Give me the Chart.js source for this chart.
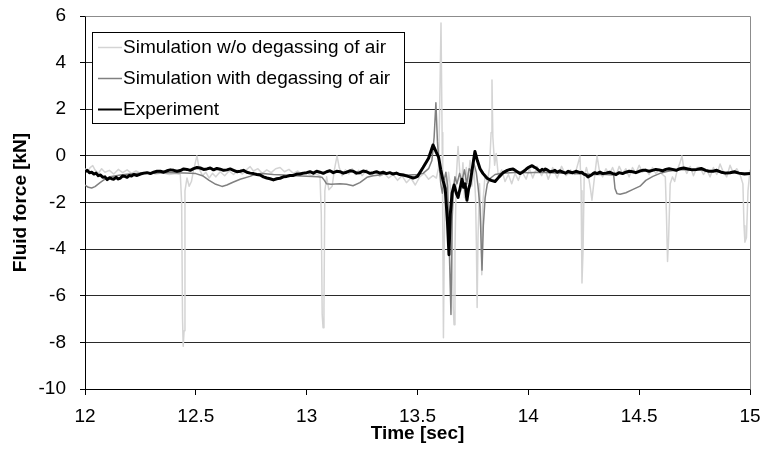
<!DOCTYPE html>
<html>
<head>
<meta charset="utf-8">
<script src="https://cdn.jsdelivr.net/npm/chart.js@4.4.1/dist/chart.umd.min.js"></script>
<style>
  body { margin: 0; background: #fff; }
  #wrap { width: 764px; height: 454px; }
</style>
</head>
<body>
<div id="wrap"><canvas id="forceChart" width="764" height="454"></canvas></div>
<script>
// Axis setup
const xMin = 12, xMax = 15, xStep = 0.5;
const yMin = -10, yMax = 6, yStep = 2;

// Simulation w/o degassing of air (light gray)
const noDegasTime = [12.000, 12.012, 12.023, 12.035, 12.045, 12.06, 12.075, 12.09, 12.11, 12.13, 12.15, 12.17, 12.19, 12.21, 12.23, 12.26, 12.29, 12.32, 12.35, 12.38, 12.41, 12.43, 12.436, 12.440, 12.443, 12.447, 12.451, 12.46, 12.47, 12.48, 12.49, 12.505, 12.515, 12.53, 12.545, 12.56, 12.575, 12.59, 12.61, 12.63, 12.65, 12.67, 12.69, 12.71, 12.73, 12.745, 12.76, 12.78, 12.80, 12.82, 12.84, 12.86, 12.88, 12.90, 12.92, 12.94, 12.96, 12.98, 13.00, 13.02, 13.04, 13.06, 13.066, 13.070, 13.074, 13.078, 13.082, 13.09, 13.10, 13.115, 13.125, 13.137, 13.147, 13.16, 13.175, 13.19, 13.205, 13.22, 13.235, 13.25, 13.27, 13.29, 13.31, 13.33, 13.35, 13.37, 13.39, 13.41, 13.43, 13.45, 13.47, 13.49, 13.51, 13.53, 13.55, 13.57, 13.585, 13.595, 13.600, 13.606, 13.611, 13.614, 13.617, 13.621, 13.627, 13.633, 13.640, 13.647, 13.655, 13.661, 13.665, 13.669, 13.675, 13.683, 13.690, 13.697, 13.705, 13.712, 13.720, 13.728, 13.737, 13.745, 13.755, 13.762, 13.766, 13.769, 13.773, 13.780, 13.786, 13.790, 13.795, 13.805, 13.815, 13.825, 13.832, 13.836, 13.840, 13.848, 13.855, 13.865, 13.88, 13.895, 13.91, 13.925, 13.94, 13.955, 13.97, 13.99, 14.005, 14.02, 14.04, 14.06, 14.075, 14.09, 14.11, 14.13, 14.15, 14.17, 14.19, 14.21, 14.225, 14.233, 14.238, 14.242, 14.247, 14.252, 14.262, 14.27, 14.28, 14.287, 14.295, 14.305, 14.31, 14.32, 14.335, 14.35, 14.365, 14.38, 14.395, 14.41, 14.425, 14.44, 14.455, 14.47, 14.485, 14.50, 14.515, 14.53, 14.545, 14.56, 14.575, 14.59, 14.605, 14.618, 14.623, 14.628, 14.633, 14.640, 14.650, 14.660, 14.672, 14.684, 14.693, 14.70, 14.715, 14.73, 14.745, 14.76, 14.774, 14.79, 14.805, 14.82, 14.835, 14.85, 14.865, 14.88, 14.895, 14.91, 14.925, 14.94, 14.955, 14.968, 14.973, 14.977, 14.984, 14.991, 15.000];
const noDegasForce = [-0.55, -0.70, -0.50, -0.42, -0.60, -0.75, -0.55, -0.70, -0.62, -0.78, -0.58, -0.72, -0.60, -0.75, -0.65, -0.80, -0.70, -0.78, -0.72, -0.80, -0.76, -0.80, -2.0, -7.0, -8.17, -7.5, -1.5, -0.95, -1.3, -1.1, -0.6, 0.00, -0.55, -0.85, -0.70, -0.95, -0.75, -0.90, -0.68, -0.85, -0.65, -0.80, -0.62, -0.78, -0.58, -0.46, -0.65, -0.55, -0.75, -0.60, -0.72, -0.55, -0.50, -0.68, -0.58, -0.75, -0.65, -0.80, -0.72, -0.85, -0.78, -0.85, -2.5, -6.8, -7.37, -6.5, -1.5, -0.9, -1.45, -1.3, -0.6, 0.00, -0.5, -0.85, -0.60, -0.78, -0.55, -0.80, -0.62, -0.85, -0.60, -0.82, -0.70, -0.88, -0.75, -0.95, -0.80, -1.05, -0.85, -1.15, -0.95, -1.25, -0.90, -0.75, -1.0, -0.85, -0.95, -0.5, 2.0, 5.70, 1.0, -3.0, -7.8, -3.5, -1.0, -1.6, -0.7, -1.2, -2.5, -6.5, -7.24, -4.0, -0.9, 0.40, -0.6, -1.5, -0.3, -1.8, -0.5, -1.1, -0.2, -1.3, -0.6, -1.8, -4.0, -6.5, -3.5, -1.2, -2.8, -5.1, -2.0, -0.8, -1.1, -0.5, 1.0, 3.26, 0.8, -0.4, 0.10, -0.9, -0.6, -1.1, -0.8, -1.2, -0.75, -1.05, -0.65, -1.0, -0.55, -0.95, -0.45, -0.85, -0.55, -1.0, -0.5, -0.95, -0.45, -0.85, -0.6, -0.8, -0.3, 0.00, -1.5, -5.45, -4.0, -0.9, -0.5, -0.8, -1.4, -1.9, -1.2, -0.4, 0.00, -0.6, -0.9, -0.55, -0.8, -0.5, -0.85, -0.45, -0.75, -0.55, -0.9, -0.5, -0.75, -0.4, -0.7, -0.55, -0.8, -0.5, -0.75, -0.6, -0.8, -0.9, -2.5, -4.53, -3.5, -1.2, -0.9, -1.1, -0.6, -0.3, 0.00, -0.45, -0.75, -0.45, -0.85, -0.5, -0.50, -0.8, -0.6, -0.9, -0.5, -0.8, -0.35, -0.7, -0.9, -0.4, -0.75, -0.55, -0.8, -1.2, -3.0, -3.7, -3.5, -1.5, -0.6];

// Simulation with degassing of air (dark gray)
const degasTime = [12.000, 12.015, 12.030, 12.045, 12.068, 12.09, 12.113, 12.16, 12.20, 12.25, 12.30, 12.35, 12.40, 12.45, 12.50, 12.53, 12.56, 12.59, 12.618, 12.64, 12.67, 12.70, 12.744, 12.77, 12.80, 12.85, 12.90, 12.95, 13.00, 13.05, 13.069, 13.08, 13.09, 13.11, 13.15, 13.18, 13.209, 13.24, 13.272, 13.30, 13.331, 13.376, 13.42, 13.46, 13.50, 13.525, 13.55, 13.565, 13.575, 13.583, 13.590, 13.597, 13.605, 13.612, 13.620, 13.628, 13.636, 13.642, 13.651, 13.656, 13.662, 13.669, 13.678, 13.690, 13.700, 13.712, 13.722, 13.733, 13.745, 13.755, 13.765, 13.773, 13.782, 13.791, 13.797, 13.805, 13.815, 13.830, 13.85, 13.88, 13.92, 13.96, 14.00, 14.05, 14.10, 14.15, 14.20, 14.25, 14.30, 14.35, 14.385, 14.391, 14.40, 14.414, 14.44, 14.47, 14.504, 14.53, 14.562, 14.594, 14.63, 14.68, 14.73, 14.78, 14.83, 14.88, 14.93, 15.00];
const degasForce = [-1.25, -1.35, -1.38, -1.32, -1.15, -1.00, -0.90, -0.82, -0.78, -0.75, -0.73, -0.72, -0.72, -0.73, -0.76, -0.85, -1.05, -1.22, -1.31, -1.25, -1.12, -1.00, -0.88, -0.78, -0.76, -0.80, -0.82, -0.85, -0.87, -0.90, -0.92, -1.05, -1.20, -1.22, -1.20, -1.22, -1.28, -1.15, -0.92, -0.85, -0.82, -0.72, -0.78, -0.82, -0.80, -0.75, -0.55, -0.20, 0.80, 2.28, 0.60, -0.30, -1.20, -1.60, -1.05, -0.70, -1.30, -3.5, -6.8, -2.8, -1.4, -0.9, -1.2, -0.75, -1.10, -0.60, -1.20, -0.55, -0.70, -0.35, -0.70, -1.30, -2.20, -4.9, -3.0, -1.8, -1.2, -0.95, -0.80, -0.75, -0.72, -0.70, -0.72, -0.70, -0.72, -0.74, -0.76, -0.78, -0.80, -0.80, -0.82, -1.40, -1.62, -1.65, -1.58, -1.45, -1.30, -1.05, -0.88, -0.75, -0.66, -0.60, -0.60, -0.62, -0.66, -0.70, -0.72, -0.75];

// Experiment (black)
const expTime = [
  12.00, 12.01, 12.02, 12.03, 12.04, 12.05, 12.06, 12.07, 12.08, 12.09,
  12.10, 12.11, 12.12, 12.13, 12.14, 12.15, 12.16, 12.17, 12.18, 12.19,
  12.20, 12.21, 12.22, 12.235, 12.25, 12.265, 12.28, 12.295, 12.31, 12.325,
  12.34, 12.355, 12.37, 12.385, 12.40, 12.415, 12.43, 12.445, 12.46, 12.475,
  12.49, 12.505, 12.52, 12.535, 12.55, 12.565, 12.58, 12.595, 12.61, 12.625,
  12.64, 12.655, 12.67, 12.685, 12.70, 12.715, 12.73, 12.745, 12.76, 12.775,
  12.79, 12.805, 12.82, 12.835, 12.85, 12.865, 12.88, 12.895, 12.91, 12.925,
  12.94, 12.955, 12.97, 12.985, 13.00, 13.015, 13.03, 13.045, 13.06, 13.075,
  13.09, 13.105, 13.12, 13.135, 13.15, 13.165, 13.18, 13.195, 13.21, 13.225,
  13.24, 13.255, 13.27, 13.285, 13.30, 13.315, 13.33, 13.345, 13.36, 13.375,
  13.39, 13.405, 13.42, 13.435, 13.45, 13.465, 13.48, 13.49, 13.50,
  13.525, 13.55, 13.57, 13.585, 13.595, 13.605, 13.615, 13.625, 13.635, 13.642,
  13.648, 13.656, 13.665, 13.675, 13.683, 13.692, 13.701, 13.708, 13.715, 13.723,
  13.730, 13.737, 13.748, 13.759, 13.770, 13.782, 13.795, 13.814, 13.832, 13.850,
  13.868, 13.886,
  13.905, 13.918, 13.931, 13.94, 13.950, 13.962, 13.973, 13.985, 13.993, 14.000,
  14.008, 14.017, 14.026, 14.035, 14.044, 14.053, 14.062, 14.07, 14.077, 14.084,
  14.097, 14.11, 14.12, 14.13, 14.143, 14.156, 14.168, 14.18, 14.19, 14.20,
  14.215, 14.233, 14.242, 14.25, 14.26, 14.269, 14.277, 14.285, 14.292, 14.30,
  14.31, 14.323, 14.336, 14.35, 14.366, 14.382, 14.396, 14.41, 14.425, 14.44,
  14.455, 14.47, 14.485, 14.50, 14.515, 14.53, 14.545, 14.56, 14.575, 14.59,
  14.605, 14.62, 14.635, 14.65, 14.667, 14.684, 14.70, 14.72, 14.74, 14.76,
  14.78, 14.80, 14.815, 14.833, 14.85, 14.87, 14.89, 14.91, 14.93, 14.95,
  14.975, 15.00
];
const expForce = [
  -0.68, -0.62, -0.72, -0.70, -0.78, -0.74, -0.85, -0.82, -0.92, -0.90,
  -1.02, -0.94, -0.98, -1.00, -0.92, -0.99, -0.95, -0.86, -0.88, -0.92,
  -0.84, -0.86, -0.80, -0.84, -0.78, -0.74, -0.72, -0.76, -0.70, -0.66,
  -0.66, -0.70, -0.64, -0.60, -0.62, -0.66, -0.63, -0.56, -0.58, -0.62,
  -0.55, -0.50, -0.52, -0.58, -0.56, -0.52, -0.60, -0.54, -0.57, -0.62,
  -0.60, -0.56, -0.62, -0.68, -0.66, -0.62, -0.70, -0.74, -0.76, -0.80,
  -0.82, -0.90, -0.95, -0.98, -1.03, -0.98, -0.96, -0.90, -0.88, -0.84,
  -0.84, -0.78, -0.78, -0.74, -0.72, -0.68, -0.74, -0.66, -0.70, -0.75,
  -0.68, -0.64, -0.72, -0.66, -0.68, -0.74, -0.70, -0.64, -0.66, -0.74,
  -0.72, -0.65, -0.68, -0.75, -0.72, -0.68, -0.74, -0.70, -0.76, -0.72,
  -0.78, -0.74, -0.80, -0.82, -0.86, -0.90, -0.95, -0.92, -0.88,
  -0.50, -0.10, 0.47, 0.15, -0.05, -0.60, -1.05, -1.40, -2.8, -4.24,
  -2.5, -1.6, -1.25, -1.60, -1.78, -1.40, -1.00, -1.35, -1.20, -1.90,
  -1.45, -1.20, -0.50, 0.19, -0.20, -0.55, -0.75, -0.96, -1.05, -1.10,
  -0.90, -0.72,
  -0.62, -0.58, -0.56, -0.62, -0.68, -0.76, -0.70, -0.62, -0.55, -0.50,
  -0.46, -0.42, -0.48, -0.52, -0.60, -0.66, -0.58, -0.62, -0.56, -0.60,
  -0.68, -0.66, -0.62, -0.70, -0.64, -0.70, -0.74, -0.66, -0.70, -0.72,
  -0.66, -0.72, -0.70, -0.78, -0.82, -0.90, -0.86, -0.82, -0.76, -0.72,
  -0.76, -0.70, -0.76, -0.74, -0.70, -0.76, -0.80, -0.72, -0.76, -0.70,
  -0.66, -0.68, -0.72, -0.66, -0.62, -0.62, -0.66, -0.62, -0.58, -0.60,
  -0.64, -0.58, -0.55, -0.58, -0.62, -0.55, -0.52, -0.56, -0.60, -0.58,
  -0.54, -0.62, -0.66, -0.66, -0.62, -0.70, -0.74, -0.72, -0.68, -0.74,
  -0.78, -0.76
];

const seriesLabels = ["Simulation w/o degassing of air", "Simulation with degassing of air", "Experiment"];
const seriesColors = ["#d4d4d4", "#808080", "#000000"];

const FONT = "'Liberation Sans', Arial, sans-serif";

function toPoints(ts, fs) {
  return ts.map((t, i) => ({ x: t, y: fs[i] }));
}

// drop the extra room chart.js reserves for edge labels, layout padding handles it
function noEdgePad(s) {
  s.paddingTop = 0;
  s.paddingBottom = 0;
  s.paddingLeft = 0;
  s.paddingRight = 0;
}

// Gray frame on top/right of plot area, like the original
const plotFrame = {
  id: "plotFrame",
  beforeDatasetsDraw(chart) {
    const { ctx, chartArea: a } = chart;
    ctx.save();
    ctx.strokeStyle = "#8c8c8c";
    ctx.lineWidth = 1;
    ctx.beginPath();
    ctx.moveTo(Math.round(a.left) + 0.5, Math.round(a.top) + 0.5);
    ctx.lineTo(Math.round(a.right) + 0.5, Math.round(a.top) + 0.5);
    ctx.lineTo(Math.round(a.right) + 0.5, Math.round(a.bottom) + 0.5);
    ctx.stroke();
    ctx.restore();
  }
};

// Boxed legend inside the plot area
const boxLegend = {
  id: "boxLegend",
  afterDatasetsDraw(chart) {
    const { ctx } = chart;
    const left = 92, top = 32, w = 312, h = 91;
    ctx.save();
    ctx.fillStyle = "#fff";
    ctx.fillRect(left, top, w, h);
    ctx.strokeStyle = "#000";
    ctx.lineWidth = 1;
    ctx.strokeRect(left + 0.5, top + 0.5, w, h);
    ctx.font = "19px " + FONT;
    ctx.textBaseline = "middle";
    chart.data.datasets.forEach((ds, i) => {
      const y = top + 15 + i * 30.8;
      ctx.strokeStyle = ds.borderColor;
      ctx.lineWidth = i === 2 ? 2 : 1.5;
      ctx.beginPath();
      ctx.moveTo(98, Math.round(y) + 0.5);
      ctx.lineTo(122, Math.round(y) + 0.5);
      ctx.stroke();
      ctx.fillStyle = "#000";
      ctx.fillText(ds.label, 123, y + 1);
    });
    ctx.restore();
  }
};

const ctx = document.getElementById("forceChart").getContext("2d");
const chart = new Chart(ctx, {
  type: "line",
  data: {
    datasets: [
      {
        label: seriesLabels[0],
        data: toPoints(noDegasTime, noDegasForce),
        borderColor: seriesColors[0],
        borderWidth: 1.5,
        order: 3
      },
      {
        label: seriesLabels[1],
        data: toPoints(degasTime, degasForce),
        borderColor: seriesColors[1],
        borderWidth: 1.5,
        order: 2
      },
      {
        label: seriesLabels[2],
        data: toPoints(expTime, expForce),
        borderColor: seriesColors[2],
        borderWidth: 3,
        order: 1
      }
    ]
  },
  options: {
    responsive: false,
    animation: false,
    layout: { padding: { top: 16, right: 14, left: 0, bottom: 0 } },
    elements: {
      point: { radius: 0 },
      line: { tension: 0, borderJoinStyle: "round" }
    },
    plugins: {
      legend: { display: false },
      tooltip: { enabled: false }
    },
    scales: {
      x: {
        type: "linear",
        min: xMin,
        max: xMax,
        afterFit(s) { s.height = 65; noEdgePad(s); },
        ticks: {
          stepSize: xStep,
          color: "#000",
          padding: 10,
          maxRotation: 0,
          font: { family: FONT, size: 19 },
          callback: v => String(Number(v))
        },
        grid: { drawOnChartArea: false, tickLength: 6, tickColor: "#000" },
        border: { color: "#000", width: 1 },
        title: {
          display: true,
          text: "Time [sec]",
          color: "#000",
          padding: { top: 0, bottom: 9 },
          font: { family: FONT, size: 19, weight: "bold" }
        }
      },
      y: {
        min: yMin,
        max: yMax,
        afterFit(s) { s.width = 85; noEdgePad(s); },
        ticks: {
          stepSize: yStep,
          color: "#000",
          padding: 14,
          font: { family: FONT, size: 19 }
        },
        grid: {
          tickLength: 5,
          tickColor: "#000",
          color: c => (c.tick && c.tick.value === yMax ? "#8c8c8c" : "#2a2a2a")
        },
        border: { color: "#000", width: 1 },
        title: {
          display: true,
          text: "Fluid force [kN]",
          color: "#000",
          padding: { top: 9, bottom: 0 },
          font: { family: FONT, size: 19, weight: "bold" }
        }
      }
    }
  },
  plugins: [plotFrame, boxLegend]
});
</script>
</body>
</html>
